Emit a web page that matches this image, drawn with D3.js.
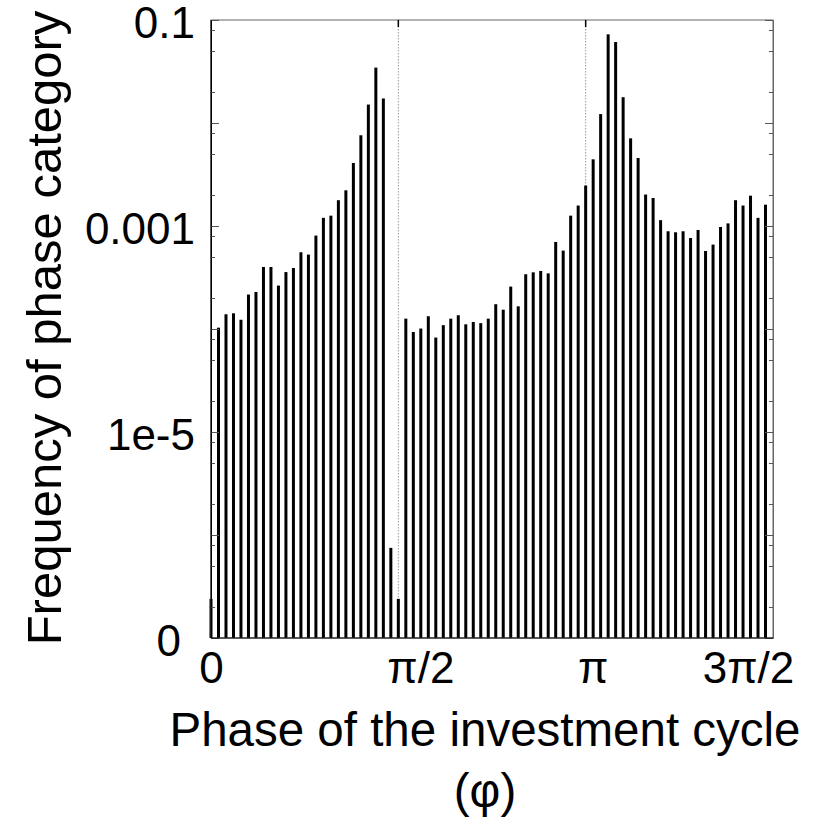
<!DOCTYPE html>
<html>
<head>
<meta charset="utf-8">
<script src="https://cdn.jsdelivr.net/npm/d3@7"></script>
<style>
  body { margin: 0; background: #fff; }
  text { font-family: "Liberation Sans", Arial, sans-serif; fill: #000; }
</style>
</head>
<body>
<svg id="chart" width="825" height="827"></svg>
<script>
// Phase histogram: the cycle is split into 100 bins of width 2π/100.
const binsPerCycle = 100;
const binIndex = [
   0,  1,  2,  3,  4,  5,  6,  7,  8,  9, 10, 11, 12, 13, 14,
  15, 16, 17, 18, 19, 20, 21, 22, 23, 24, 25, 26, 27, 28, 29,
  30, 31, 32, 33, 34, 35, 36, 37, 38, 39, 40, 41, 42, 43, 44,
  45, 46, 47, 48, 49, 50, 51, 52, 53, 54, 55, 56, 57, 58, 59,
  60, 61, 62, 63, 64, 65, 66, 67, 68, 69, 70, 71, 72, 73, 74
];
const frequency = [
  2.4e-7, 1.03e-4, 1.39e-4, 1.42e-4, 1.23e-4, 2.16e-4, 2.29e-4, 4.0e-4, 4.0e-4, 2.64e-4,
  3.57e-4, 3.91e-4, 5.56e-4, 5.28e-4, 8.07e-4, 1.20e-3, 1.26e-3, 1.78e-3, 2.22e-3, 4.09e-3,
  7.60e-3, 1.51e-2, 3.45e-2, 1.73e-2, 7.5e-7, 2.4e-7, 1.26e-4, 9.35e-5, 1.01e-4, 1.33e-4,
  8.26e-5, 1.09e-4, 1.26e-4, 1.36e-4, 1.11e-4, 1.17e-4, 1.14e-4, 1.26e-4, 1.74e-4, 1.54e-4,
  2.58e-4, 1.66e-4, 3.40e-4, 3.55e-4, 3.66e-4, 3.47e-4, 7.0e-4, 5.77e-4, 1.26e-3, 1.58e-3,
  2.47e-3, 4.44e-3, 1.22e-2, 7.26e-2, 6.11e-2, 1.78e-2, 7.1e-3, 4.57e-3, 2.02e-3, 1.87e-3,
  1.14e-3, 8.89e-4, 8.69e-4, 8.89e-4, 7.64e-4, 9.15e-4, 5.72e-4, 6.6e-4, 9.78e-4, 1.06e-3,
  1.78e-3, 1.58e-3, 1.97e-3, 1.20e-3, 1.61e-3
];

const yTickValues = [1e-1, 1e-3, 1e-5, 1e-7];
const yTickLabels = ["0.1", "0.001", "1e-5", "0"];
const xTickValues = [0, Math.PI / 2, Math.PI, 3 * Math.PI / 2];
const xTickLabels = ["0", "π/2", "π", "3π/2"];
const guidePhases = [Math.PI / 2, Math.PI];

const svg = d3.select("#chart");
const plot = { left: 211, right: 773, top: 20, bottom: 638 };

const x = d3.scaleLinear().domain([0, 3 * Math.PI / 2]).range([plot.left, plot.right]);
const y = d3.scaleLog().domain([1e-7, 1e-1]).range([plot.bottom, plot.top]);

// decade ticks and 2/5/8 minor ticks
const decades = d3.range(-7, 0).map(e => Math.pow(10, e));
const minorTicks = [];
decades.slice(0, -1).forEach(d => [2, 5, 8].forEach(m => minorTicks.push(d * m)));

// dotted guides at π/2 and π
svg.append("g").selectAll("line").data(guidePhases).join("line")
  .attr("x1", d => x(d)).attr("x2", d => x(d))
  .attr("y1", plot.top).attr("y2", plot.bottom)
  .attr("stroke", "#999").attr("stroke-width", 1)
  .attr("stroke-dasharray", "1.5,1.5");

// bars
const bw = 3;
svg.append("g").selectAll("rect").data(binIndex).join("rect")
  .attr("x", i => x(i * 2 * Math.PI / binsPerCycle) - bw / 2)
  .attr("width", bw)
  .attr("y", i => y(frequency[i]))
  .attr("height", i => y(1e-7) - y(frequency[i]))
  .attr("fill", "#000");

// frame
svg.append("rect")
  .attr("x", plot.left).attr("y", plot.top)
  .attr("width", plot.right - plot.left).attr("height", plot.bottom - plot.top)
  .attr("fill", "none").attr("stroke", "#666").attr("stroke-width", 1);

// left axis with inward ticks
const gL = svg.append("g").attr("transform", `translate(${plot.left},0)`)
  .call(d3.axisRight(y).tickValues(decades).tickSize(8).tickFormat(""));
gL.select(".domain").attr("stroke", "#000");
gL.selectAll(".tick line").attr("stroke", "#555");
const gLm = svg.append("g").attr("transform", `translate(${plot.left},0)`)
  .call(d3.axisRight(y).tickValues(minorTicks).tickSize(4).tickFormat(""));
gLm.select(".domain").remove();
gLm.selectAll(".tick line").attr("stroke", "#555");

// right axis with inward ticks
const gR = svg.append("g").attr("transform", `translate(${plot.right},0)`)
  .call(d3.axisLeft(y).tickValues(decades).tickSize(8).tickFormat(""));
gR.select(".domain").attr("stroke", "#666");
gR.selectAll(".tick line").attr("stroke", "#555");
const gRm = svg.append("g").attr("transform", `translate(${plot.right},0)`)
  .call(d3.axisLeft(y).tickValues(minorTicks).tickSize(4).tickFormat(""));
gRm.select(".domain").remove();
gRm.selectAll(".tick line").attr("stroke", "#555");

// y tick labels
const gYL = svg.append("g").attr("transform", `translate(${plot.left},0)`)
  .call(d3.axisLeft(y).tickValues(yTickValues).tickSize(0).tickPadding(16)
    .tickFormat((d, i) => yTickLabels[i]));
gYL.select(".domain").remove();
gYL.selectAll(".tick text")
  .attr("font-size", 44)
  .attr("font-family", "Liberation Sans, Arial, sans-serif")
  .attr("fill", "#000")
  .attr("dy", "0.4em")
  .attr("dx", (d, i) => i === 3 ? -14 : 0);

// bottom and left axis lines
svg.append("line")
  .attr("x1", plot.left).attr("x2", plot.right).attr("y1", plot.bottom).attr("y2", plot.bottom)
  .attr("stroke", "#000").attr("stroke-width", 1);
svg.append("line")
  .attr("x1", plot.left).attr("x2", plot.left).attr("y1", plot.top).attr("y2", plot.bottom)
  .attr("stroke", "#000").attr("stroke-width", 1);

// top ticks at the guide phases
svg.append("g").selectAll("line").data(guidePhases).join("line")
  .attr("x1", d => x(d)).attr("x2", d => x(d))
  .attr("y1", plot.top).attr("y2", plot.top + 7)
  .attr("stroke", "#000").attr("stroke-width", 1.5);

// x tick labels
const xLabelShift = [0, 22, 7, -25];
const gX = svg.append("g").attr("transform", `translate(0,${plot.bottom})`)
  .call(d3.axisBottom(x).tickValues(xTickValues).tickSize(0).tickPadding(14)
    .tickFormat((d, i) => xTickLabels[i]));
gX.select(".domain").remove();
gX.selectAll(".tick text")
  .attr("font-size", 44)
  .attr("font-family", "Liberation Sans, Arial, sans-serif")
  .attr("fill", "#000")
  .attr("dx", (d, i) => xLabelShift[i]);

// axis titles
svg.append("text")
  .attr("transform", "translate(61,328) rotate(-90)")
  .attr("text-anchor", "middle")
  .attr("font-size", 49)
  .text("Frequency of phase category");

svg.append("text")
  .attr("x", 485).attr("y", 746)
  .attr("text-anchor", "middle")
  .attr("font-size", 47.5)
  .text("Phase of the investment cycle");
svg.append("text")
  .attr("x", 485).attr("y", 807)
  .attr("text-anchor", "middle")
  .attr("font-size", 47.5)
  .text("(φ)");
</script>
</body>
</html>
